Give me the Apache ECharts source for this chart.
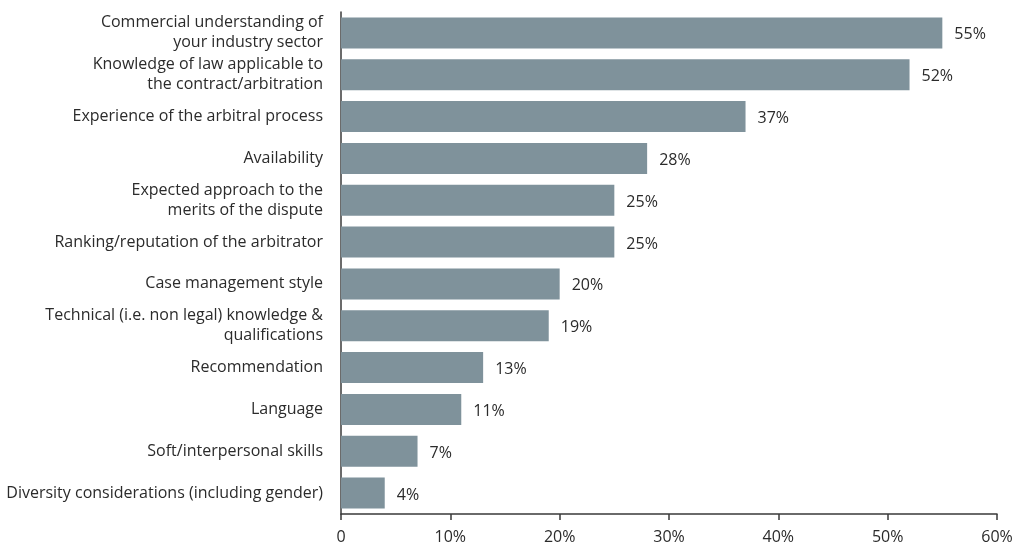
<!DOCTYPE html>
<html>
<head>
<meta charset="utf-8">
<script src="https://cdn.jsdelivr.net/npm/echarts@6/dist/echarts.min.js"></script>
<style>
  html, body { margin: 0; padding: 0; background: #ffffff; }
  #chart { width: 1019px; height: 547px; }
</style>
</head>
<body>
<div id="chart"></div>
<script>
// Factors considered when selecting an arbitrator (share of respondents, %)
const categories = [
  'Commercial understanding of\nyour industry sector',
  'Knowledge of law applicable to\nthe contract/arbitration',
  'Experience of the arbitral process',
  'Availability',
  'Expected approach to the\nmerits of the dispute',
  'Ranking/reputation of the arbitrator',
  'Case management style',
  'Technical (i.e. non legal) knowledge &\nqualifications',
  'Recommendation',
  'Language',
  'Soft/interpersonal skills',
  'Diversity considerations (including gender)'
];
const values = [55, 52, 37, 28, 25, 25, 20, 19, 13, 11, 7, 4];
const axisTicks = [0, 10, 20, 30, 40, 50, 60];

const FONT = '"Open Sans", "Noto Sans", sans-serif';
const TEXT = '#2b2b2b';

const chart = echarts.init(document.getElementById('chart'), null, { renderer: 'canvas' });
chart.setOption({
  animation: false,
  backgroundColor: '#ffffff',
  grid: { left: 341, right: 22, top: 12, bottom: 33, containLabel: false },
  xAxis: {
    type: 'value',
    min: axisTicks[0],
    max: axisTicks[axisTicks.length - 1],
    interval: axisTicks[1] - axisTicks[0],
    axisLine: { show: true, lineStyle: { color: '#3a3a3a', width: 1.5 } },
    axisTick: { show: true, length: 6, lineStyle: { color: '#3a3a3a', width: 1.5 } },
    splitLine: { show: false },
    axisLabel: {
      margin: 15,
      fontFamily: FONT,
      fontSize: 16,
      color: TEXT,
      formatter: v => (v === 0 ? '0' : v + '%')
    }
  },
  yAxis: {
    type: 'category',
    inverse: true,
    data: categories,
    axisLine: { show: true, lineStyle: { color: '#3a3a3a', width: 1.5 } },
    axisTick: { show: false },
    axisLabel: {
      margin: 18,
      fontFamily: FONT,
      fontSize: 16,
      lineHeight: 20,
      color: TEXT,
      align: 'right'
    }
  },
  series: [{
    type: 'bar',
    data: values,
    barCategoryGap: '26%',
    itemStyle: { color: '#7f929b' },
    label: {
      show: true,
      position: 'right',
      distance: 12,
      offset: [0, 2],
      fontFamily: FONT,
      fontSize: 16,
      color: TEXT,
      formatter: p => p.value + '%'
    }
  }]
});
</script>
</body>
</html>
